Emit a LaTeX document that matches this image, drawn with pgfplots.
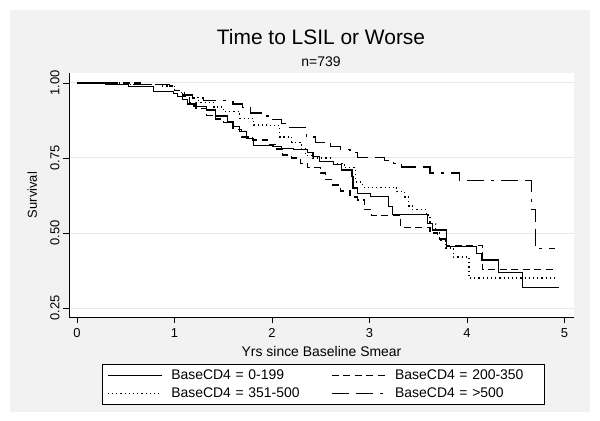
\documentclass[border=0pt]{standalone}
\usepackage{pgfplots}
\pgfplotsset{compat=1.18}
\usepackage{fontspec}
\setmainfont{Liberation Sans}
\definecolor{bggray}{RGB}{242,242,242}
\definecolor{gridgray}{RGB}{232,232,232}
\begin{document}
\begin{tikzpicture}[x=1bp,y=1bp]
\useasboundingbox (0,0) rectangle (600,420);
\fill[white] (0,0) rectangle (600,420);
\fill[bggray] (10,8) rectangle (590,410);
\node[font=\fontsize{21}{25}\selectfont] at (321,383) {Time to LSIL or Worse};
\node[font=\fontsize{14}{17}\selectfont] at (321,358) {n=739};
\begin{axis}[
  at={(69bp,103bp)}, anchor=south west,
  scale only axis, width=505bp, height=244bp,
  xmin=-0.082, xmax=5.097, ymin=0.22, ymax=1.0333,
  axis background/.style={fill=white},
  axis x line*=bottom, axis y line*=left,
  axis line style={black, line width=0.8bp},
  tick align=outside, major tick length=6bp,
  tick style={black, line width=0.8bp},
  xtick={0,1,2,3,4,5},
  ytick={0.25,0.5,0.75,1},
  ymajorgrids, grid style={gridgray, line width=1bp},
  /pgf/number format/assume math mode=true,
  tick label style={font=\fontsize{13}{15}\selectfont},
  xticklabel style={yshift=-2bp},
  yticklabel style={rotate=90, anchor=south, /pgf/number format/fixed, /pgf/number format/fixed zerofill, /pgf/number format/precision=2},
  xlabel={Yrs since Baseline Smear},
  ylabel={Survival},
  every axis x label/.style={at={(axis description cs:0.5,-0.1434)}, anchor=center, font=\fontsize{14}{16}\selectfont},
  every axis y label/.style={at={(axis description cs:-0.073,0.5)}, anchor=center, rotate=90, font=\fontsize{13}{15}\selectfont},
  legend columns=2,
  legend cell align=left,
  legend image code/.code={\draw[#1, line width=0.9bp] (0bp,0bp) -- (54bp,0bp);},
  legend style={at={(axis description cs:0.0653,-0.1926)}, anchor=north west,
    draw=black, fill=white, line width=0.8bp, font=\fontsize{14}{16}\selectfont,
    inner xsep=5bp, inner ysep=3.5bp, row sep=2.5bp,
    /tikz/every odd column/.append style={column sep=7bp},
    /tikz/every even column/.append style={column sep=16bp, text width=142bp}},
]
% BaseCD4 = 0-199
\addplot[const plot, black, line width=1.1bp] coordinates {
(0,1.0) (0.29,0.994) (0.53,0.987) (0.78,0.972) (0.99,0.965) (1.03,0.955) (1.08,0.945)
(1.13,0.93) (1.2,0.922) (1.33,0.91) (1.42,0.89) (1.54,0.87) (1.6,0.855) (1.67,0.837)
(1.74,0.815) (1.81,0.793) (2.01,0.787) (2.1,0.782) (2.22,0.777) (2.36,0.767) (2.42,0.755)
(2.49,0.738) (2.63,0.727) (2.71,0.71) (2.82,0.688) (2.83,0.65) (2.88,0.633) (3.01,0.621)
(3.19,0.588) (3.24,0.563) (3.59,0.533) (3.65,0.51) (3.79,0.455) (4.10,0.433) (4.15,0.41)
(4.32,0.367) (4.57,0.317) (4.94,0.317)};
\addlegendentry{BaseCD4 = 0-199}
% BaseCD4 = 200-350
\addplot[const plot, black, line width=1.1bp, dash pattern=on 7bp off 4.5bp] coordinates {
(0,1.0) (0.7,0.995) (0.95,0.99) (1.0,0.975) (1.08,0.955) (1.15,0.935) (1.22,0.915)
(1.33,0.893) (1.42,0.88) (1.5,0.867) (1.6,0.845) (1.69,0.82) (1.8,0.81) (1.95,0.795)
(2.05,0.78) (2.11,0.76) (2.2,0.75) (2.29,0.733) (2.36,0.717) (2.5,0.70) (2.55,0.677)
(2.62,0.66) (2.7,0.64) (2.8,0.62) (2.88,0.61) (2.95,0.577) (3.02,0.557) (3.32,0.517)
(3.62,0.50) (3.7,0.48) (3.79,0.458) (4.16,0.377) (4.88,0.377)};
\addlegendentry{BaseCD4 = 200-350}
% BaseCD4 = 351-500
\addplot[const plot, black, line width=1.1bp, dash pattern=on 1.2bp off 3bp] coordinates {
(0,1.0) (0.5,0.995) (0.85,0.99) (1.0,0.975) (1.07,0.96) (1.13,0.953) (1.25,0.935)
(1.4,0.92) (1.5,0.905) (1.67,0.883) (1.81,0.86) (1.98,0.857) (2.08,0.82) (2.2,0.803)
(2.3,0.78) (2.34,0.757) (2.42,0.75) (2.6,0.733) (2.74,0.717) (2.86,0.67) (2.93,0.653)
(3.28,0.637) (3.36,0.62) (3.40,0.59) (3.44,0.577) (3.58,0.56) (3.62,0.53) (3.68,0.50)
(3.72,0.475) (3.78,0.45) (3.86,0.42) (4.02,0.35) (4.93,0.35)};
\addlegendentry{BaseCD4 = 351-500}
% BaseCD4 = >500
\addplot[const plot, black, line width=1.1bp, dash pattern=on 17bp off 7bp on 17bp off 7bp on 3bp off 7bp] coordinates {
(0,1.0) (0.55,0.995) (0.95,0.99) (1.02,0.975) (1.1,0.96) (1.18,0.95) (1.3,0.941)
(1.6,0.93) (1.7,0.917) (1.78,0.9) (1.92,0.89) (1.98,0.877) (2.1,0.865) (2.16,0.853)
(2.35,0.82) (2.45,0.803) (2.6,0.787) (2.7,0.777) (2.8,0.767) (2.88,0.753) (3.15,0.743)
(3.25,0.733) (3.33,0.72) (3.62,0.70) (3.92,0.674) (4.66,0.577) (4.70,0.447) (4.90,0.447)};
\addlegendentry{BaseCD4 = >500}
\end{axis}
\end{tikzpicture}
\end{document}
